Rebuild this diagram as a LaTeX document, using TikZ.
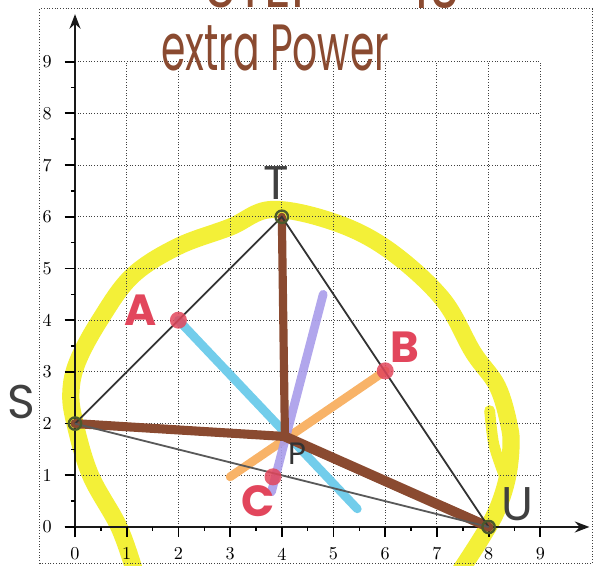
\documentclass[tikz,border=0pt]{standalone}
\usepackage{fontspec}
\newfontfamily\hand{Poppins}
\usetikzlibrary{arrows.meta}
\definecolor{hlyellow}{HTML}{F3F038}
\definecolor{pbrown}{HTML}{8A4A30}
\definecolor{pcyan}{HTML}{72CDEB}
\definecolor{porange}{HTML}{F8B368}
\definecolor{ppurple}{HTML}{A99CEA}
\definecolor{pred}{HTML}{E2465C}
\definecolor{pgreen}{HTML}{4B5A2C}
\definecolor{pgray}{HTML}{333333}
\begin{document}
\begin{tikzpicture}[x=1cm,y=1cm,
  gridline/.style={densely dotted, black!75, line width=0.5pt},
  axisline/.style={line width=1.5pt, black!90, -{Stealth[length=8pt,width=6pt]}},
  ticklab/.style={font=\fontsize{10}{12}\selectfont, inner sep=0pt},
  hl/.style={hlyellow, line width=9.5pt, line cap=round, line join=round},
  marker/.style={line width=4.8pt, line cap=round},
  thinline/.style={pgray, line width=1pt},
  reddot/.style={circle, fill=pred, fill opacity=0.85, minimum size=0.33cm, inner sep=0pt},
  vring/.style={circle, draw=pgreen, line width=1.3pt, minimum size=0.24cm, inner sep=0pt},
  redlab/.style={text=pred, font=\hand\bfseries\fontsize{24}{24}\selectfont, inner sep=0pt},
  blacklab/.style={text=black!75, font=\hand\fontsize{26}{26}\selectfont, inner sep=0pt},
  brownhand/.style={text=pbrown, font=\hand\fontsize{36}{36}\selectfont, inner sep=0pt},
]
\useasboundingbox (-1.451,-0.753) rectangle (10.019,10.193);

% yellow highlighter loop
\draw[hl] plot[smooth, tension=0.6] coordinates {(1.15,-0.85) (0.85,0.0) (0.3,1.0) (0.0,2.0) (-0.08,2.6) (0.05,3.2) (0.48,4.0) (1.1,4.85) (1.98,5.42) (3.0,5.8) (3.8,6.14) (5.0,5.9) (6.05,5.37) (7.1,4.42) (7.7,3.38) (8.17,2.72) (8.4,1.95) (8.43,1.5) (8.35,0.9) (8.15,0.3) (7.85,-0.23) (7.45,-0.85)};
\draw[hl, line width=6pt] plot[smooth] coordinates {(8.02,2.25) (8.1,1.6) (8.3,1.0)};

% frame and grid
\draw[gridline] (-0.68,-0.71) rectangle (10.0,10.02);
\foreach \k in {1,...,9} {
  \draw[gridline] (\k,0) -- (\k,9);
  \draw[gridline] (0,\k) -- (9,\k);
}

% axes
\coordinate (xs) at (-0.2,0);
\coordinate (xe) at (9.95,0);
\coordinate (ys) at (0,-0.2);
\coordinate (ye) at (0,9.92);
\draw[axisline] (xs) -- (xe);
\draw[axisline] (ys) -- (ye);
\foreach \k in {0,...,9} {
  \draw[line width=1pt] (-0.2,\k) -- (0,\k);
  \draw[line width=1pt] (\k,0) -- (\k,-0.2);
  \node[ticklab] (yl\k) at (-0.54,\k) {\k};
  \node[ticklab] (xl\k) at (\k,-0.52) {\k};
}
\foreach \k in {0.5,1.5,...,8.5} {
  \draw[line width=0.8pt] (-0.08,\k) -- (0,\k);
  \draw[line width=0.8pt] (\k,0) -- (\k,-0.08);
}

% points
\coordinate (S) at (0,2);
\coordinate (T) at (4,6);
\coordinate (U) at (8,0);
\coordinate (O) at (4.06,1.75);
\coordinate (A) at (2,4);
\coordinate (B) at (6,3.02);
\coordinate (C) at (3.83,0.97);
\coordinate (cyanend) at (5.46,0.35);
\coordinate (orangeend) at (3.0,0.97);
\coordinate (purpletop) at (4.8,4.5);
\coordinate (purplebot) at (3.8,0.68);

% perpendicular bisectors
\draw[marker, pcyan] (A) -- (cyanend);
\draw[marker, porange] (B) -- (orangeend);
\draw[marker, ppurple, opacity=0.9] (purpletop) -- (purplebot);

% brown segments to the centre
\draw[marker, pbrown, line width=5pt] (S) -- (O);
\draw[marker, pbrown, line width=4.5pt] (T) -- (O);
\draw[marker, pbrown, line width=5.5pt] (O) -- (U);

% triangle
\draw[thinline] (S) -- (T) -- (U);
\draw[thinline, black!65] (S) -- (U);

% midpoints
\node[reddot] (dA) at (A) {};
\node[reddot] (dB) at (B) {};
\node[reddot] (dC) at (C) {};

% vertex rings
\node[vring] (rS) at (S) {};
\node[vring] (rT) at (T) {};
\node[vring] (rU) at (U) {};

% labels
\node[redlab] (lA) at (1.26,4.2) {A};
\node[redlab] (lB) at (6.38,3.47) {B};
\node[redlab] (lC) at (3.55,0.5) {C};
\node[blacklab] (lS) at (-1.03,2.41) {S};
\node[blacklab] (lT) at (3.9,6.66) {T};
\node[blacklab] (lU) at (8.55,0.44) {U};
\node[text=black!80, font=\hand\fontsize{17}{17}\selectfont, inner sep=0pt] (lP) at (4.31,1.42) {P};

% title
\node[brownhand, xscale=0.6] (title) at (3.87,9.27) {extra Power};
\node[brownhand, anchor=south, xscale=0.8] (step) at (3.65,10.03) {STEP};
\node[brownhand, anchor=south, xscale=0.8] (ten) at (7.0,10.03) {10};
\end{tikzpicture}
\end{document}
